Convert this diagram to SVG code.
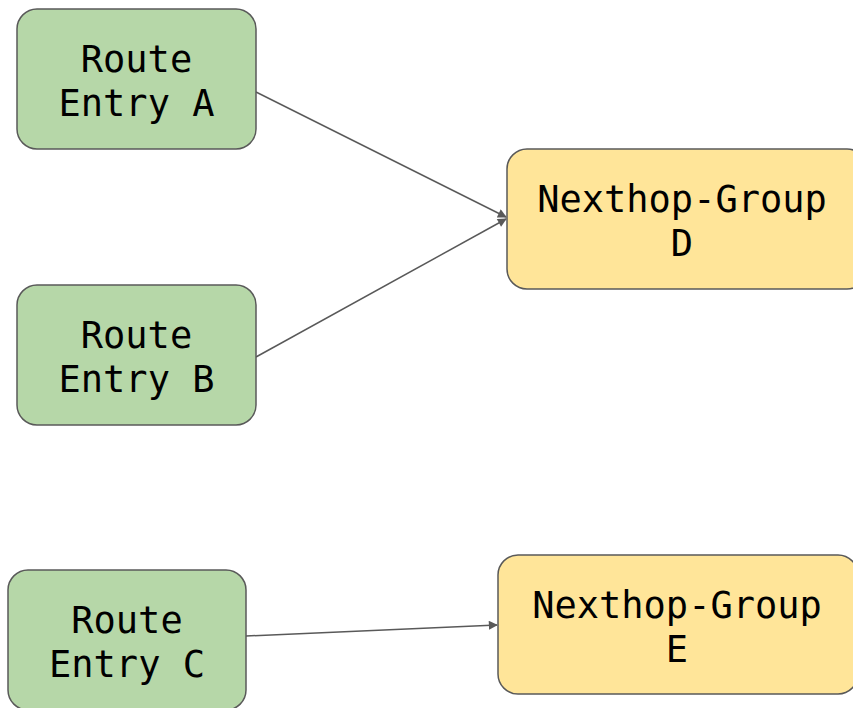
<svg xmlns="http://www.w3.org/2000/svg" width="853" height="708" viewBox="0 0 853 708">
<defs>
<style>
.route rect{fill:#b6d7a8;stroke:#595959;stroke-width:1.5}
.nhg rect{fill:#ffe599;stroke:#595959;stroke-width:1.5}
text{font-family:"DejaVu Sans Mono","Liberation Mono",monospace;font-size:37px;fill:#000;text-anchor:middle}
.conn line{stroke:#595959;stroke-width:1.5;marker-end:url(#arr)}
</style>
<marker id="arr" viewBox="0 0 10 10" refX="9" refY="5" markerWidth="10" markerHeight="9" markerUnits="userSpaceOnUse" orient="auto">
<path d="M0,0 L10,5 L0,10 z" fill="#595959"/>
</marker>
</defs>
<rect width="853" height="708" fill="#fff"/>
<g class="conn" id="connectors">
<line x1="256" y1="92" x2="506" y2="217"/>
<line x1="256" y1="357" x2="506" y2="219"/>
<line x1="246" y1="636" x2="497" y2="625"/>
</g>
<g id="routeA" class="route"><rect x="17" y="9" width="239" height="140" rx="20"/><text x="136.5" y="72">Route</text><text x="136.5" y="116">Entry A</text></g>
<g id="routeB" class="route"><rect x="17" y="285" width="239" height="140" rx="20"/><text x="136.5" y="348">Route</text><text x="136.5" y="392">Entry B</text></g>
<g id="routeC" class="route"><rect x="8" y="570" width="238" height="140" rx="20"/><text x="127" y="633">Route</text><text x="127" y="677">Entry C</text></g>
<g id="nhgD" class="nhg"><rect x="507" y="149" width="360" height="140" rx="20"/><text x="682" y="212">Nexthop-Group</text><text x="682" y="256">D</text></g>
<g id="nhgE" class="nhg"><rect x="498" y="555" width="360" height="139" rx="20"/><text x="677" y="618">Nexthop-Group</text><text x="677" y="662">E</text></g>
</svg>
